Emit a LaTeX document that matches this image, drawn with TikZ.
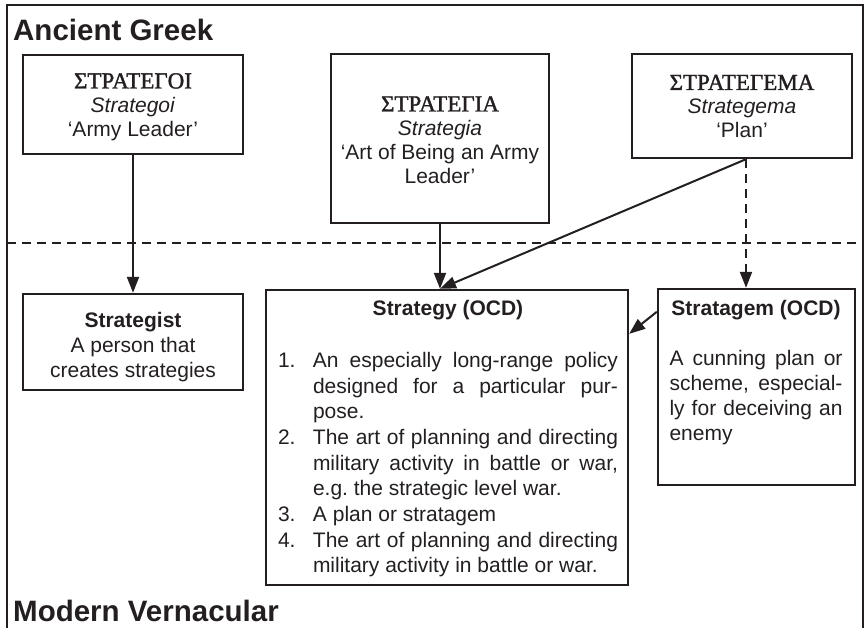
\documentclass[tikz,border=0pt]{standalone}
\usepackage{fontspec}
\setmainfont{Liberation Sans}
\newfontfamily\greekfont[FakeBold=1.5]{Liberation Serif}
\usetikzlibrary{arrows.meta}
\definecolor{ink}{RGB}{35,31,32}
% numbered entry with a hanging indent
\newcommand\numitem[2]{\par\noindent\hangindent=35pt\hangafter=1\makebox[35pt][l]{#1}#2\par}
\newcommand\greek[1]{{\greekfont\fontsize{23}{24}\selectfont #1}}

\begin{document}
\begin{tikzpicture}[x=1pt,y=-1pt,
  box/.style={draw=ink, line width=2.4pt, inner sep=0pt},
  txt/.style={text=ink, inner sep=0pt, align=center, font=\fontsize{21}{24}\selectfont},
  link/.style={draw=ink, line width=2pt, -{Triangle[length=16pt,width=12pt]}},
  heading/.style={text=ink, inner sep=0pt, anchor=base west, font=\bfseries\fontsize{29.5}{34}\selectfont}]
\useasboundingbox (0,0) rectangle (867,627);

% outer frame and era separator
\draw[ink, line width=1.8pt, line join=miter] (7,640) -- (7,5) -- (863,5) -- (863,640);
\coordinate (sepL) at (7,243);
\coordinate (sepR) at (863,243);
\draw[ink, line width=2pt, dash pattern=on 9pt off 6pt] (sepL) -- (sepR);

\node[heading] (eraTop) at (13,40) {Ancient Greek};
\node[heading] (eraBottom) at (13,621) {Modern Vernacular};

% Greek sources
\node[box, minimum width=220pt, minimum height=99pt] (g1) at (133,104.5) {};
\node[txt] (g1t) at (133,107) {\greek{ΣΤΡΑΤΕΓΟΙ}\\\textit{Strategoi}\\‘Army Leader’};

\node[box, minimum width=218pt, minimum height=169pt] (g2) at (440,138.5) {};
\node[txt] (g2t) at (440,140) {\greek{ΣΤΡΑΤΕΓΙΑ}\\\textit{Strategia}\\‘Art of Being an Army\\Leader’};

\node[box, minimum width=220pt, minimum height=104pt] (g3) at (742,106) {};
\node[txt] (g3t) at (742,106.5) {\greek{ΣΤΡΑΤΕΓΕΜΑ}\\\textit{Strategema}\\‘Plan’};

% modern terms
\node[box, minimum width=220pt, minimum height=96pt] (s1) at (133,342) {};
\node[txt, font=\fontsize{21}{25}\selectfont] (s1t) at (133,347) {\textbf{Strategist}\\A person that\\creates strategies};

\node[box, minimum width=362pt, minimum height=295pt] (s2) at (447,437.5) {};
\node[txt, text width=340pt, align=justify, font=\fontsize{21}{25.7}\selectfont] (s2t) at (448,439) {%
  \tolerance=10000\hbadness=10000
  {\centering\bfseries Strategy (OCD)\par}\vspace{25.7pt}%
  \numitem{1.}{An especially long-range policy\linebreak designed for a particular pur-\linebreak pose.}%
  \numitem{2.}{The art of planning and directing\linebreak military activity in battle or war,\linebreak e.g.\ the strategic level war.}%
  \numitem{3.}{A plan or stratagem}%
  \numitem{4.}{The art of planning and directing\linebreak military activity in battle or war.}};

\node[box, minimum width=197pt, minimum height=196pt] (s3) at (756.5,387) {};
\node[txt, text width=173pt, align=justify, font=\fontsize{21}{25}\selectfont] (s3t) at (756,373) {%
  \tolerance=10000\hbadness=10000
  {\centering\bfseries Stratagem (OCD)\par}\vspace{25pt}%
  \noindent A cunning plan or\linebreak scheme, especial-\linebreak ly for deceiving an\linebreak enemy\par};

% derivations
\coordinate (hit) at (g2.south |- s2.north);
\coordinate (g3out) at ([xshift=4pt]g3.south);
\draw[link] (g1) -- (s1);
\draw[link] (g2) -- (hit);
\draw[link] (g3out) -- (hit);
\draw[link, dash pattern=on 9pt off 6pt] (g3out) -- (g3out |- s3.north);
\draw[link] ([yshift=-24pt]s3.north west) -- ([yshift=-45pt]s2.north east);
\end{tikzpicture}
\end{document}
